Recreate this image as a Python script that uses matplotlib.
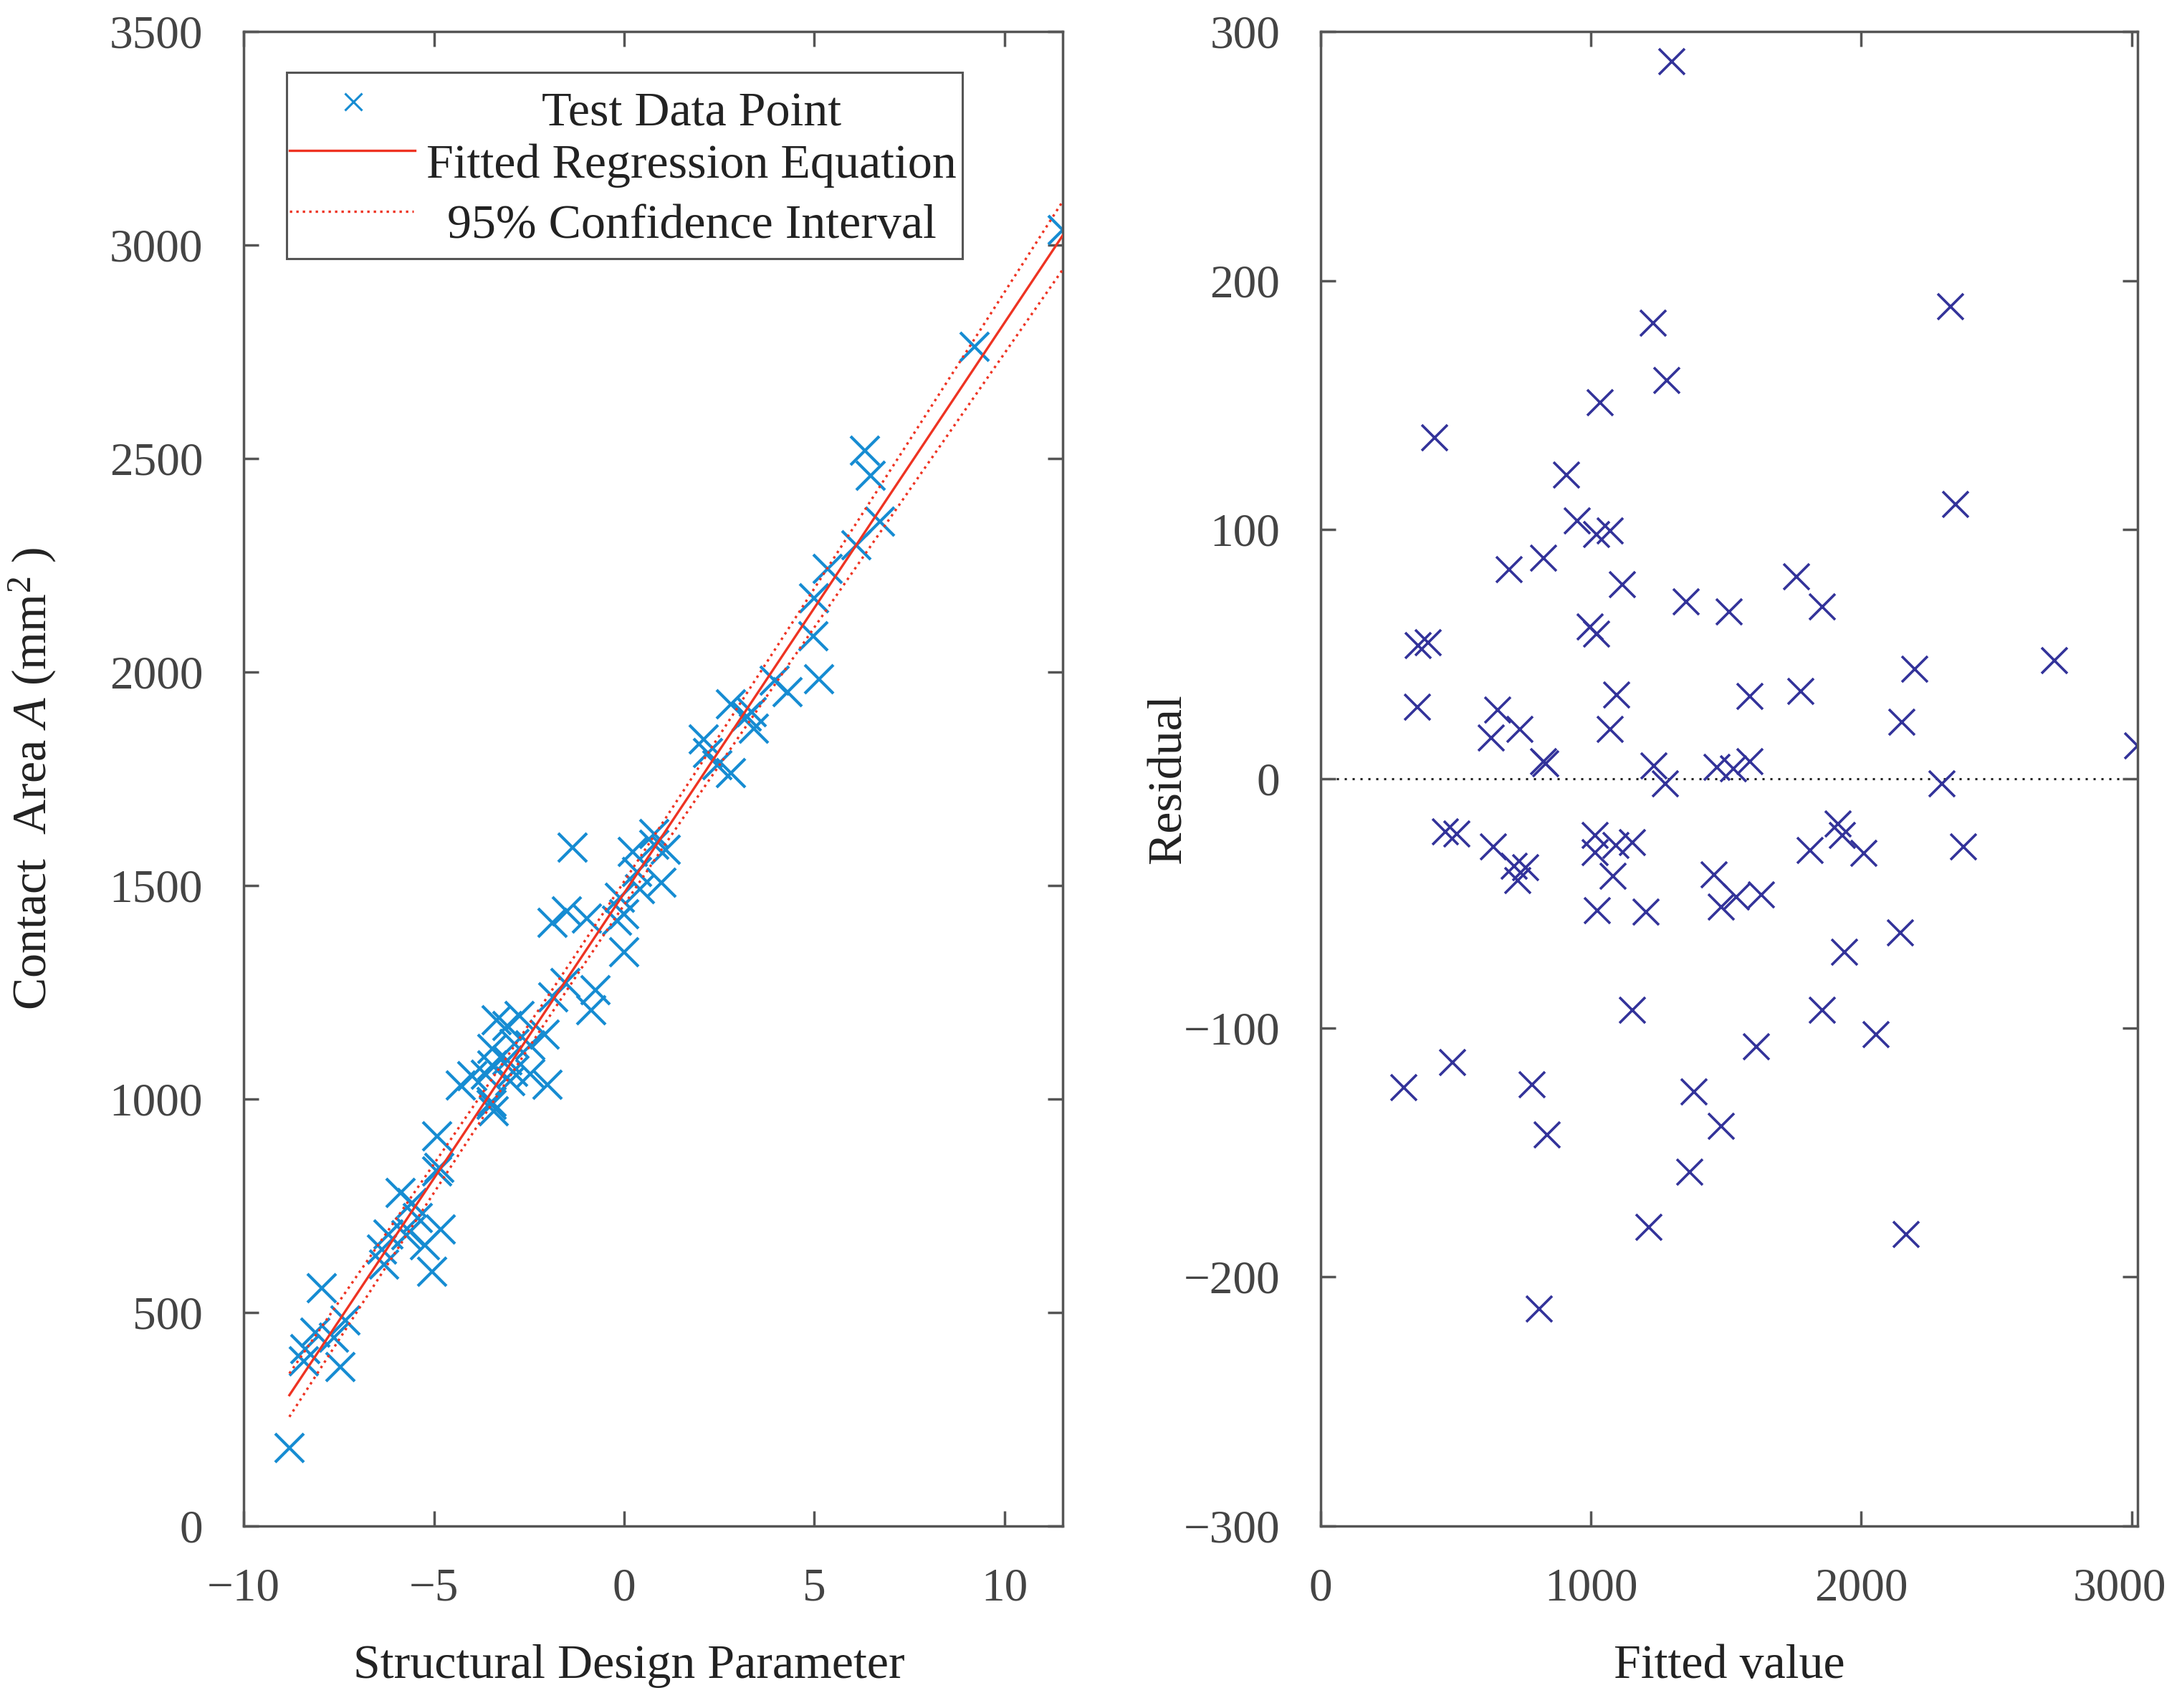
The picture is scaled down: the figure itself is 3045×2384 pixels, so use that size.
import numpy as np
import matplotlib
matplotlib.use('Agg')
import matplotlib.pyplot as plt
import matplotlib.transforms as mtransforms
from matplotlib.patches import Rectangle

plt.rcParams['font.family'] = ['Liberation Serif', 'DejaVu Serif']
plt.rcParams['mathtext.fontset'] = 'custom'
plt.rcParams['mathtext.rm'] = 'Liberation Serif'
plt.rcParams['mathtext.it'] = 'Liberation Serif:italic'

# ---------------- data ----------------
# left panel: structural design parameter vs contact area
param = [-1.36, 6.34, -1.89, -1.51, -3.35, -7.95, -4.29, 6.49, -3.99, -3.46,
         -3.07, -5.88, -4.92, -2.74, 2.09, -0.98, 0.22, 2.80, -8.39, -8.11,
         -3.64, -3.46, 9.22, 5.35, -8.42, -6.19, -2.89, 0.80, 2.20, -6.37,
         -5.58, -3.07, 5.00, 11.53, -4.92, -4.86, -1.86, -0.11, 0.34, 0.80,
         -1.55, 6.11, -7.63, -7.33, -6.31, -5.73, -5.42, -5.63, -3.49, -3.49,
         -2.92, -2.47, -3.00, -3.43, -2.09, -0.19, 0.01, 0.42, 1.10, 2.46,
         3.23, 3.35, 3.95, 6.72, 4.97, 3.41, -2.47, 2.80, 4.29, 0.98,
         -7.45, -8.80, -5.24, -0.75, -4.82, 0.01, -0.87, -2.01, 5.12, -5.04]
area = [1588, 2518, 1412, 1440, 1185, 557, 1031, 2459, 1053, 1118,
        1171, 780, 912, 1194, 1842, 1422, 1578, 1925, 414, 452,
        1057, 1078, 2762, 2241, 386, 683, 1129, 1621, 1810, 647,
        756, 1091, 2173, 3035, 831, 838, 1238, 1472, 1531, 1595,
        1272, 2296, 441, 481, 612, 681, 721, 689, 993, 986,
        1064, 1126, 1042, 971, 1150, 1417, 1432, 1491, 1583, 1782,
        1895, 1906, 1980, 2352, 2084, 1867, 1059, 1763, 1952, 1506,
        373, 182, 658, 1255, 695, 1343, 1207, 1033, 1983, 596]

# right panel: fitted value vs residual
fitted_value = [1300, 2329, 1229, 1280, 1034, 420, 909, 2349, 949, 1020,
                1071, 696, 824, 1116, 1761, 1351, 1511, 1856, 361, 398,
                996, 1020, 2714, 2197, 357, 655, 1095, 1588, 1775, 631,
                736, 1071, 2150, 3022, 824, 832, 1233, 1467, 1527, 1588,
                1274, 2298, 462, 503, 639, 716, 757, 730, 1016, 1016,
                1091, 1152, 1081, 1024, 1203, 1456, 1483, 1538, 1629, 1811,
                1913, 1929, 2010, 2379, 2146, 1937, 1152, 1856, 2055, 1613,
                487, 306, 781, 1381, 838, 1483, 1365, 1213, 2166, 809]
residual = [288, 189.5, 183, 160, 151, 137, 122, 110, 103.6, 98,
            99.6, 84, 88.5, 78, 81, 71, 67, 69, 53.5, 54.5,
            61, 58, 47.5, 44, 28.7, 27.7, 33.7, 33, 35, 16.4,
            19.8, 19.8, 22.8, 13.3, 6.9, 5.9, 5, 4.6, 4, 6.9,
            -2, -2, -21.4, -22.2, -27.3, -35.2, -35.6, -41, -22.8, -29.7,
            -26.7, -25.7, -39.2, -53, -53.5, -38.6, -51.5, -47.5, -46.5, -28.7,
            -18.2, -22.8, -30, -27.3, -61.8, -69.7, -93, -93, -102.6, -107.5,
            -113.9, -124, -123, -125.7, -143, -139.6, -158, -180, -183, -213]

param_ticks = [-10, -5, 0, 5, 10]
area_ticks = [0, 500, 1000, 1500, 2000, 2500, 3000, 3500]
fitted_ticks = [0, 1000, 2000, 3000]
residual_ticks = [-300, -200, -100, 0, 100, 200, 300]
legend_labels = ['Test Data Point', 'Fitted Regression Equation',
                 '95% Confidence Interval']

# simultaneous 95% band critical value, about sqrt(2*F(0.95; 2, n-2))
band_crit = 2.55

# ---------------- style ----------------
BLUE = '#168CD2'
NAVY = '#33339A'
RED = '#EE3322'
SPINE = '#555555'
TICKLAB = '#444444'
LABEL = '#222222'

fig = plt.figure(figsize=(30.45, 23.84), dpi=100)
ax1 = fig.add_axes([0.1117, 0.1066, 0.3753, 0.8750])
ax2 = fig.add_axes([0.6053, 0.1066, 0.3743, 0.8750])

# ---------------- left panel ----------------
xs = np.asarray(param, dtype=float)
ys = np.asarray(area, dtype=float)
slope, intercept = np.polyfit(xs, ys, 1)
n = xs.size
res = ys - (intercept + slope * xs)
s = np.sqrt(np.sum(res ** 2) / (n - 2))
xbar = xs.mean()
sxx = np.sum((xs - xbar) ** 2)
xg = np.linspace(xs.min(), xs.max(), 300)
yg = intercept + slope * xg
half = band_crit * s * np.sqrt(1.0 / n + (xg - xbar) ** 2 / sxx)

ax1.plot(xs, ys, linestyle='none', marker='x', ms=29, mew=3.0,
         color=BLUE, zorder=2)
ax1.plot(xg, yg, '-', color=RED, lw=2.4, zorder=3)
ax1.plot(xg, yg + half, color=RED, lw=2.4, ls=(0, (1, 1.7)), zorder=3)
ax1.plot(xg, yg - half, color=RED, lw=2.4, ls=(0, (1, 1.7)), zorder=3)

ax1.set_xlim(-10, 11.53)
ax1.set_ylim(0, 3500)
ax1.set_xticks(param_ticks)
ax1.set_yticks(area_ticks)

ax1.set_xlabel('Structural Design Parameter', fontsize=49, color=LABEL)
ax1.xaxis.set_label_coords(0.4707, -0.079)
ax1.set_ylabel('Contact  Area $\\mathit{A}$ (mm$^2$ )', fontsize=49,
               color=LABEL)
ax1.yaxis.set_label_coords(-0.2257, 0.5)

# legend (MATLAB style, centred labels)
lx0, ly0, lw_, lh_ = 0.0525, 0.848, 0.8255, 0.1246
ax1.add_patch(Rectangle((lx0, ly0), lw_, lh_, transform=ax1.transAxes,
                        facecolor='white', edgecolor=SPINE, lw=2.2,
                        zorder=5))
ax1.plot([0.1339], [0.9529], linestyle='none', marker='x', ms=17, mew=2.2,
         color=BLUE, transform=ax1.transAxes, zorder=6, clip_on=False)
ax1.plot([0.056, 0.209], [0.9203, 0.9203], '-', color=RED, lw=2.4,
         transform=ax1.transAxes, zorder=6)
ax1.plot([0.056, 0.2075], [0.8796, 0.8796], color=RED, lw=2.4,
         ls=(0, (1, 1.7)), transform=ax1.transAxes, zorder=6)
for lab, yb in zip(legend_labels, [0.937, 0.9022, 0.8618]):
    ax1.text(0.547, yb, lab, ha='center', va='baseline', fontsize=49,
             color=LABEL, transform=ax1.transAxes, zorder=7)

# ---------------- right panel ----------------
ax2.axhline(0, color='#222222', lw=2.2, ls=(0, (1, 2.6)), zorder=1)
ax2.plot(fitted_value, residual, linestyle='none', marker='x', ms=26,
         mew=2.6, color=NAVY, zorder=2)
ax2.set_xlim(0, 3022)
ax2.set_ylim(-300, 300)
ax2.set_xticks(fitted_ticks)
ax2.set_yticks(residual_ticks)
ax2.set_xlabel('Fitted value', fontsize=49, color=LABEL)
ax2.xaxis.set_label_coords(0.5, -0.079)
ax2.set_ylabel('Residual', fontsize=49, color=LABEL)
ax2.yaxis.set_label_coords(-0.159, 0.5)

for ax in (ax1, ax2):
    for sp in ax.spines.values():
        sp.set_color(SPINE)
        sp.set_linewidth(2.5)
    ax.tick_params(direction='in', length=15, width=2.5, top=True,
                   right=True, labelsize=47, color=SPINE,
                   labelcolor=TICKLAB)
    ax.tick_params(axis='y', pad=41)
    ax.tick_params(axis='x', pad=42)

# the last x tick label of the residual panel sits slightly left (as in the source)
fig.canvas.draw()
last_lab = ax2.xaxis.get_major_ticks()[-1].label1
last_lab.set_transform(last_lab.get_transform() +
                       mtransforms.ScaledTranslation(-0.17, 0,
                                                     fig.dpi_scale_trans))

fig.savefig('out.png', dpi=100, facecolor='white')
